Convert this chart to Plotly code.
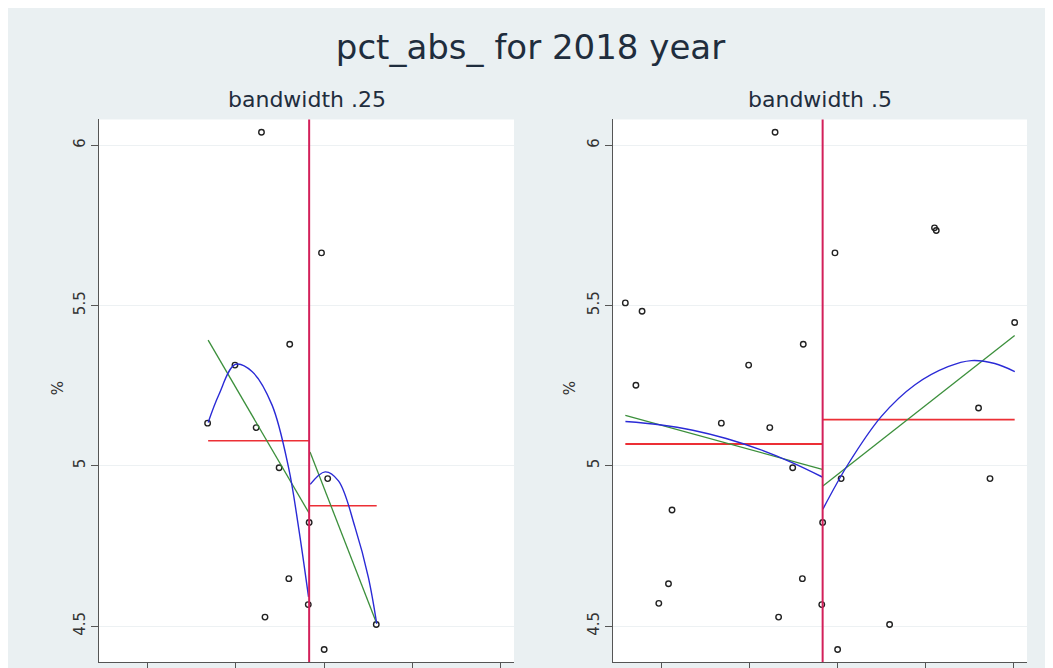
import plotly.graph_objects as go

# running variable (x ticks are unlabeled in the source, so arbitrary units) and outcome
score = [-0.41, -0.29, -0.22, -0.03, 0.08, 0.12, 0.68, 0.99, 1.23, 1.29, 1.33, 1.49,
         1.60, 1.61, 1.82, 1.83, 1.97, 2.00, 2.04, 2.59, 3.10, 3.12, 3.60, 3.73, 4.01]
pct_abs = [5.508, 5.251, 5.482, 4.571, 4.632, 4.862, 5.133, 5.314, 5.119, 6.040, 4.528, 4.994,
           4.648, 5.379, 4.567, 4.823, 5.664, 4.427, 4.960, 4.505, 5.742, 5.734, 5.180, 4.960, 5.447]
cutoff = 1.83

# bandwidth .25 fits
bw25_lin_left_x = [0.686, 1.83]
bw25_lin_left_y = [5.392, 4.852]
bw25_lin_right_x = [1.84, 2.595]
bw25_lin_right_y = [5.043, 4.508]
bw25_mean_left_x = [0.686, 1.83]
bw25_mean_left_y = [5.078, 5.078]
bw25_mean_right_x = [1.84, 2.595]
bw25_mean_right_y = [4.875, 4.875]
bw25_quad_left_x = [0.686, 0.806, 0.994, 1.183, 1.409, 1.597, 1.710, 1.823]
bw25_quad_left_y = [5.135, 5.221, 5.316, 5.294, 5.190, 4.994, 4.808, 4.591]
bw25_quad_right_x = [1.842, 2.011, 2.162, 2.350, 2.500, 2.595]
bw25_quad_right_y = [4.942, 4.981, 4.953, 4.808, 4.653, 4.508]

# bandwidth .5 fits
bw5_lin_left_x = [-0.41, 1.826]
bw5_lin_left_y = [5.157, 4.989]
bw5_lin_right_x = [1.833, 4.01]
bw5_lin_right_y = [4.937, 5.406]
bw5_mean_left_x = [-0.41, 1.826]
bw5_mean_left_y = [5.068, 5.068]
bw5_mean_right_x = [1.833, 4.01]
bw5_mean_right_y = [5.144, 5.144]
bw5_quad_left_x = [-0.409, -0.023, 0.356, 0.735, 1.114, 1.490, 1.826]
bw5_quad_left_y = [5.138, 5.128, 5.111, 5.085, 5.051, 5.009, 4.965]
bw5_quad_right_x = [1.833, 2.117, 2.497, 2.875, 3.253, 3.519, 3.784, 4.011]
bw5_quad_right_y = [4.865, 5.004, 5.154, 5.252, 5.309, 5.328, 5.319, 5.294]

RED = '#ec2f35'
GREEN = '#3b8f3b'
BLUE = '#2a2ad6'
CUT = '#d3205a'
BG = '#eaf0f2'
TXT = '#1f2d3d'

fig = go.Figure()


def add_panel(xa, ya, px, py, fits):
    fig.add_trace(go.Scatter(x=px, y=py, mode='markers', xaxis=xa, yaxis=ya,
                             marker=dict(symbol='circle-open', size=5.5, color='#222',
                                         line=dict(width=1.4))))
    for fx, fy, color, width, shape in fits:
        fig.add_trace(go.Scatter(x=fx, y=fy, mode='lines', xaxis=xa, yaxis=ya,
                                 line=dict(color=color, width=width, shape=shape)))


lo, hi = bw25_lin_left_x[0] - 0.01, bw25_lin_right_x[-1] + 0.01
left_pts = [(x, y) for x, y in zip(score, pct_abs) if lo <= x <= hi]

add_panel('x', 'y', [p[0] for p in left_pts], [p[1] for p in left_pts], [
    (bw25_mean_left_x, bw25_mean_left_y, RED, 1.5, 'linear'),
    (bw25_mean_right_x, bw25_mean_right_y, RED, 1.5, 'linear'),
    (bw25_lin_left_x, bw25_lin_left_y, GREEN, 1.3, 'linear'),
    (bw25_lin_right_x, bw25_lin_right_y, GREEN, 1.3, 'linear'),
    (bw25_quad_left_x, bw25_quad_left_y, BLUE, 1.4, 'spline'),
    (bw25_quad_right_x, bw25_quad_right_y, BLUE, 1.4, 'spline'),
])
add_panel('x2', 'y2', score, pct_abs, [
    (bw5_mean_left_x, bw5_mean_left_y, RED, 1.8, 'linear'),
    (bw5_mean_right_x, bw5_mean_right_y, RED, 1.8, 'linear'),
    (bw5_lin_left_x, bw5_lin_left_y, GREEN, 1.3, 'linear'),
    (bw5_lin_right_x, bw5_lin_right_y, GREEN, 1.3, 'linear'),
    (bw5_quad_left_x, bw5_quad_left_y, BLUE, 1.4, 'spline'),
    (bw5_quad_right_x, bw5_quad_right_y, BLUE, 1.4, 'spline'),
])

for xr in ['x', 'x2']:
    fig.add_shape(type='line', xref=xr, yref=('y' if xr == 'x' else 'y2') + ' domain',
                  x0=cutoff, x1=cutoff, y0=0, y1=1, line=dict(color=CUT, width=2))

# the page has an 8px body margin, so the figure is sized to fill the rest of the window
W, H = 1045, 660
xaxis_style = dict(range=[-0.55, 4.15], tickvals=[0, 1, 2, 3, 4], showticklabels=False,
                   ticks='outside', ticklen=6, tickcolor='#555', showgrid=False,
                   zeroline=False, showline=True, linecolor='#555', linewidth=1.2)
yaxis_style = dict(range=[4.388, 6.08], tickvals=[4.5, 5, 5.5, 6], ticktext=['4.5', '5', '5.5', '6'],
                   tickangle=-90, ticks='outside', ticklen=7, tickcolor='#555',
                   tickfont=dict(family='DejaVu Sans', size=15, color='#333'),
                   showgrid=True, gridcolor='#edf1f3', gridwidth=1, zeroline=False,
                   showline=True, linecolor='#555', linewidth=1.2)
ydom = [(H - 657) / H, (H - 112) / H]

fig.update_layout(
    width=W, height=H,
    margin=dict(l=0, r=0, t=0, b=0),
    paper_bgcolor=BG, plot_bgcolor='white',
    showlegend=False,
    title=dict(text='pct_abs_ for 2018 year', x=0.5, xanchor='center',
               yref='container', y=1 - 39 / H, yanchor='middle',
               font=dict(family='DejaVu Sans', size=34, color=TXT)),
    xaxis=dict(domain=[91 / W, 506 / W], anchor='y', **xaxis_style),
    xaxis2=dict(domain=[605 / W, 1019 / W], anchor='y2', **xaxis_style),
    yaxis=dict(domain=ydom, anchor='x', **yaxis_style),
    yaxis2=dict(domain=ydom, anchor='x2', **yaxis_style),
)

for cx, txt in [((91 + 506) / 2 / W, 'bandwidth .25'), ((605 + 1019) / 2 / W, 'bandwidth .5')]:
    fig.add_annotation(text=txt, x=cx, y=1 - 92 / H, xref='paper', yref='paper',
                       xanchor='center', yanchor='middle', showarrow=False,
                       font=dict(family='DejaVu Sans', size=22, color=TXT))
for ax in [50, 562]:
    fig.add_annotation(text='%', x=ax / W, y=1 - 382 / H, xref='paper', yref='paper',
                       xanchor='center', yanchor='middle', showarrow=False, textangle=-90,
                       font=dict(family='DejaVu Sans', size=15, color='#333'))

fig.write_html("out.html")
